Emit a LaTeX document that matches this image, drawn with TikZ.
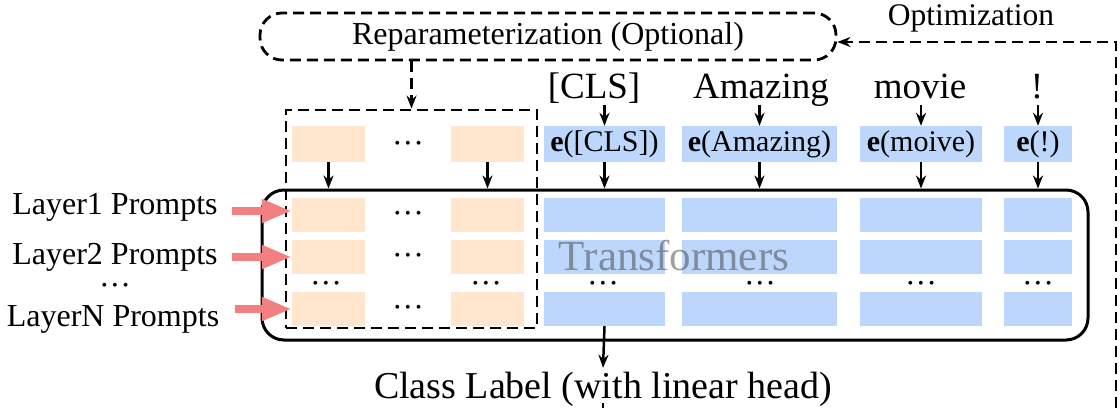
\documentclass[tikz,border=0pt]{standalone}
\usepackage{fontspec}
\setmainfont{Liberation Serif}
\usetikzlibrary{arrows.meta,calc}
\definecolor{orc}{RGB}{255,230,204}
\definecolor{blc}{RGB}{189,215,252}
\definecolor{redc}{RGB}{243,128,128}
\newcommand{\mydots}{\textbullet\hspace{5pt}\textbullet\hspace{5pt}\textbullet}
\begin{document}
\begin{tikzpicture}[x=1pt,y=-1pt,
  ori/.style={fill=orc,draw=none,minimum width=73pt,minimum height=34pt,inner sep=0pt},
  blu/.style={fill=blc,draw=none,minimum height=34pt,inner sep=0pt},
  emb/.style={fill=blc,draw=none,minimum height=36pt,inner sep=0pt,font=\fontsize{30}{36}\selectfont},
  tok/.style={anchor=base,inner sep=0pt,text depth=7pt,font=\fontsize{37}{44}\selectfont},
  lab/.style={inner sep=0pt,font=\fontsize{32}{38}\selectfont},
  dts/.style={inner sep=0pt,font=\fontsize{16}{18}\selectfont},
  arr/.style={line width=2.5pt,-{Stealth[length=13pt,width=10pt]}},
  redarr/.style={draw=redc,line width=8pt,-{Triangle[length=30pt,width=22pt]}},
  dsh/.style={dash pattern=on 11pt off 6pt,line width=2.8pt}
]
\useasboundingbox (0,0) rectangle (1120,408);

% reparameterization and optimization
\node[draw,dsh,rounded corners=22pt,minimum width=576pt,minimum height=47pt,inner sep=0pt,font=\fontsize{32}{38}\selectfont] (rep) at (548,36.5) {Reparameterization (Optional)};
\node[inner sep=0pt,font=\fontsize{31.5}{37}\selectfont] (opt) at (971,18) {Optimization};

% tokens
\node[tok] (tCLS) at (594,98) {[CLS]};
\node[tok] (tAMZ) at (761,98) {Amazing};
\node[tok] (tMOV) at (920,98) {movie};
\node[tok] (tEX) at (1037,98) {!};

% embeddings and top prompt blocks
\node[emb,minimum width=121pt] (eCLS) at (604.5,144) {\textbf{e}([CLS])};
\node[emb,minimum width=155pt] (eAMZ) at (759.5,144) {\textbf{e}(Amazing)};
\node[emb,minimum width=122pt] (eMOV) at (921,144) {\textbf{e}(moive)};
\node[emb,minimum width=68pt] (eEX) at (1038,144) {\textbf{e}(!)};
\node[ori,minimum height=36pt] (o01) at (328.5,144) {};
\node[ori,minimum height=36pt] (o02) at (487.5,144) {};
\node[dts] (d0) at (408,145) {\mydots};

% transformer
\node[draw,line width=3pt,rounded corners=22pt,minimum width=826pt,minimum height=150pt,inner sep=0pt] (tf) at (675,265) {};

\foreach \r/\y in {1/215,2/257,3/309}{
  \node[ori] (o1\r) at (328.5,\y) {};
  \node[ori] (o2\r) at (487.5,\y) {};
  \node[dts] (dr\r) at (408,\y) {\mydots};
  \node[blu,minimum width=121pt] (c\r) at (604.5,\y) {};
  \node[blu,minimum width=155pt] (a\r) at (759.5,\y) {};
  \node[blu,minimum width=122pt] (m\r) at (921,\y) {};
  \node[blu,minimum width=68pt] (x\r) at (1038,\y) {};
}
\foreach \n/\x in {1/326,2/486,3/603,4/760,5/921,6/1038}{
  \node[dts] (dm\n) at (\x,285) {\mydots};
}

% dashed prompt box
\node[draw,dsh,minimum width=251pt,minimum height=218pt,inner sep=0pt] (pbox) at (411.5,219) {};

% Transformers label
\node[anchor=base,inner sep=0pt,text=black!75,text opacity=0.5,font=\fontsize{43}{50}\selectfont] (tfl) at (674,270) {Transformers};

% left labels
\node[lab] (L1) at (115,207) {Layer1 Prompts};
\node[lab] (L2) at (115,257) {Layer2 Prompts};
\node[dts] (Ld) at (115,287) {\mydots};
\node[lab] (LN) at (113,319) {LayerN Prompts};

% red arrows
\coordinate (in1) at ([yshift=4pt]o11.west);
\draw[redarr] ([xshift=14pt]L1.east |- in1) -- (in1);
\draw[redarr] ([xshift=14pt]L2.east |- o12.west) -- (o12.west);
\draw[redarr] ([xshift=16pt]LN.east |- o13.west) -- (o13.west);

% class label
\node[anchor=base,inner sep=0pt,text height=30pt,text depth=8pt,font=\fontsize{38}{45}\selectfont] (cls) at (603,398) {Class Label (with linear head)};

% arrows
\draw[arr,dsh] (rep.south -| pbox.north) -- (pbox.north);
\draw[arr] (tCLS.south -| eCLS.north) -- (eCLS.north);
\draw[arr] (tAMZ.south -| eAMZ.north) -- (eAMZ.north);
\draw[arr] (tMOV.south -| eMOV.north) -- (eMOV.north);
\draw[arr] (tEX.south -| eEX.north) -- (eEX.north);
\foreach \n in {o01,o02,eCLS,eAMZ,eMOV,eEX}{
  \draw[arr] (\n.south) -- (\n.south |- tf.north);
}
\draw[arr] (c3.south) -- (cls.north);
\coordinate (fragA) at (603,403);
\coordinate (fragB) at (603,408);
\draw[line width=2.4pt] (fragA) -- (fragB);

% optimization loop
\coordinate (ob) at (1116,408);
\draw[dsh,-{Stealth[length=13pt,width=10pt]}] (ob) |- ([yshift=-5.5pt]rep.east);
\end{tikzpicture}
\end{document}
